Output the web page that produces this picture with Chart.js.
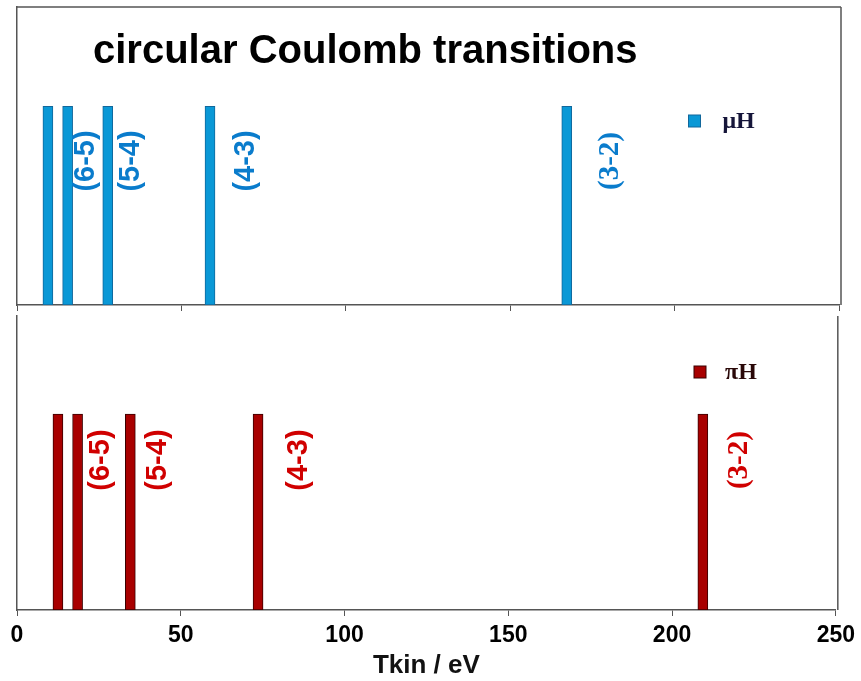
<!DOCTYPE html>
<html>
<head>
<meta charset="utf-8">
<script src="https://cdn.jsdelivr.net/npm/chart.js@4.4.0/dist/chart.umd.min.js"></script>
<style>
html, body { margin: 0; padding: 0; background: #fff; }
#wrap { position: relative; width: 861px; height: 681px; overflow: hidden; }
canvas { position: absolute; left: 0; }
</style>
</head>
<body>
<div id="wrap">
  <canvas id="muChart" width="861" height="318" style="top:0"></canvas>
  <canvas id="piChart" width="861" height="381" style="top:300px"></canvas>
</div>
<script>
// transition energies (Tkin, eV)
var muEnergies = [9.4, 15.4, 27.6, 58.7, 167.2];
var piEnergies = [12.5, 18.5, 34.6, 73.6, 209.4];
var lineHeights = [1, 1, 1, 1, 1];
var transitions = ['', '(6-5)', '(5-4)', '(4-3)', '(3-2)'];
var xTicks = [0, 50, 100, 150, 200, 250];

var axisColor = '#555';

function points(xs) {
  return xs.map(function (x, i) { return { x: x, y: lineHeights[i] }; });
}

// rotated transition labels next to the bars
var transitionLabels = {
  id: 'transitionLabels',
  afterDatasetsDraw: function (chart, args, opts) {
    var ctx = chart.ctx;
    var meta = chart.getDatasetMeta(0);
    var yPix = chart.scales.y.getPixelForValue(opts.level);
    ctx.save();
    ctx.fillStyle = opts.color;
    ctx.textAlign = 'center';
    ctx.textBaseline = 'middle';
    transitions.forEach(function (t, i) {
      if (!t) return;
      var bar = meta.data[i];
      ctx.save();
      ctx.translate(bar.x + opts.offsets[i], yPix);
      ctx.rotate(-Math.PI / 2);
      ctx.font = i === transitions.length - 1 ? opts.lastFont : opts.font;
      ctx.fillText(t, 0, 0);
      ctx.restore();
    });
    ctx.restore();
  }
};

// box lines, legend square and the title
var frameAndLegend = {
  id: 'frameAndLegend',
  afterDraw: function (chart, args, opts) {
    var ctx = chart.ctx, a = chart.chartArea;
    ctx.save();
    ctx.strokeStyle = axisColor;
    ctx.lineWidth = 1.5;
    ctx.beginPath();
    if (opts.top) {
      ctx.moveTo(a.left, a.top);
      ctx.lineTo(a.right + 2, a.top);
    }
    ctx.moveTo(a.right + 2, a.top);
    ctx.lineTo(a.right + 2, a.bottom);
    ctx.stroke();

    var ds = chart.data.datasets[0];
    ctx.fillStyle = ds.backgroundColor;
    ctx.strokeStyle = ds.borderColor;
    ctx.lineWidth = 1;
    ctx.fillRect(opts.lx - 6, opts.ly - 6, 12, 12);
    ctx.strokeRect(opts.lx - 6, opts.ly - 6, 12, 12);
    ctx.fillStyle = opts.textColor;
    ctx.font = 'bold 24px "Liberation Serif"';
    ctx.textAlign = 'left';
    ctx.textBaseline = 'middle';
    ctx.fillText(ds.label, opts.lx + opts.gap, opts.ly + 1);

    if (opts.title) {
      ctx.fillStyle = '#000';
      ctx.font = 'bold 40px "Liberation Sans"';
      ctx.textBaseline = 'alphabetic';
      ctx.fillText(opts.title, 93, 63);
    }
    ctx.restore();
  }
};

function makeOptions(showLabels, axisHeight, padTop, plugins) {
  return {
    responsive: false,
    animation: false,
    layout: { padding: { left: 17, right: 22, top: padTop, bottom: 0 } },
    scales: {
      x: {
        type: 'linear',
        min: 0,
        max: 250,
        offset: false,
        afterBuildTicks: function (s) { s.ticks = xTicks.map(function (v) { return { value: v }; }); },
        afterFit: function (s) { s.height = axisHeight; },
        grid: { offset: false, drawOnChartArea: false, drawTicks: true, tickLength: 6, color: axisColor },
        border: { display: true, color: axisColor, width: 1.5 },
        ticks: {
          display: showLabels,
          color: '#000',
          padding: 6,
          maxRotation: 0,
          font: { family: '"Liberation Sans"', size: 23, weight: 'bold' }
        },
        title: {
          display: showLabels,
          text: 'Tkin / eV',
          color: '#111',
          padding: { top: 0, bottom: 0 },
          font: { family: '"Liberation Sans"', size: 26, weight: 'bold' }
        }
      },
      y: {
        min: 0,
        max: 1.5,
        afterFit: function (s) { s.width = 0; },
        ticks: { display: false },
        grid: { display: false },
        border: { display: true, color: axisColor, width: 1.5 }
      }
    },
    plugins: Object.assign({
      legend: { display: false },
      tooltip: { enabled: false }
    }, plugins)
  };
}

new Chart(document.getElementById('muChart'), {
  type: 'bar',
  data: {
    datasets: [{
      label: 'μH',
      data: points(muEnergies),
      backgroundColor: '#0a98d6',
      borderColor: '#11679b',
      borderWidth: 1,
      borderSkipped: false,
      barThickness: 10
    }]
  },
  options: makeOptions(false, 13, 7, {
    transitionLabels: {
      level: 0.725,
      offsets: [0, 18, 23, 35.5, 44],
      color: '#0a7ccc',
      font: 'bold 29px "Liberation Sans"',
      lastFont: 'bold 29px "Liberation Serif"'
    },
    frameAndLegend: { top: true, lx: 694.5, ly: 121, gap: 28, textColor: '#16163a', title: 'circular Coulomb transitions' }
  }),
  plugins: [transitionLabels, frameAndLegend]
});

new Chart(document.getElementById('piChart'), {
  type: 'bar',
  data: {
    datasets: [{
      label: 'πH',
      data: points(piEnergies),
      backgroundColor: '#a80000',
      borderColor: '#3a0000',
      borderWidth: 1,
      borderSkipped: false,
      barThickness: 10
    }]
  },
  options: makeOptions(true, 71, 16, {
    transitionLabels: {
      level: 0.765,
      offsets: [0, 23.5, 27.3, 40.5, 36.5],
      color: '#d00000',
      font: 'bold 29px "Liberation Sans"',
      lastFont: 'bold 29px "Liberation Serif"'
    },
    frameAndLegend: { top: false, lx: 700, ly: 72, gap: 25, textColor: '#2a0808' }
  }),
  plugins: [transitionLabels, frameAndLegend]
});
</script>
</body>
</html>
